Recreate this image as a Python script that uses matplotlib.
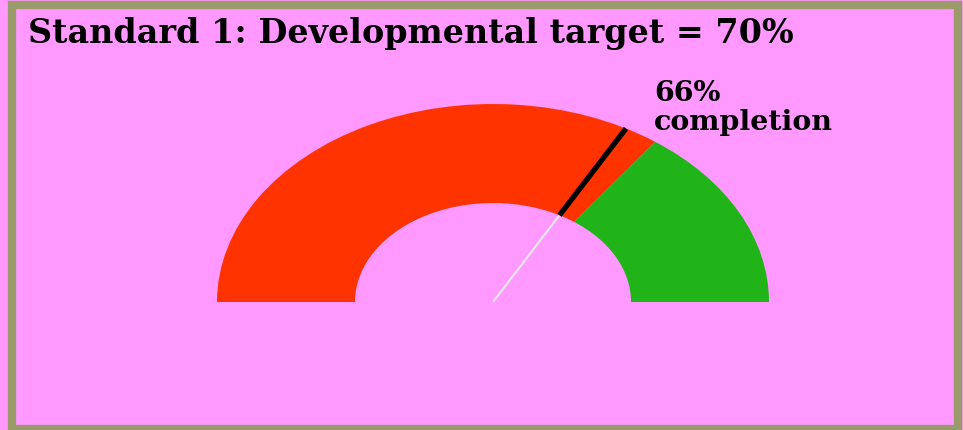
import matplotlib
matplotlib.use("Agg")
import matplotlib.pyplot as plt
from matplotlib.patches import Wedge, Rectangle
import numpy as np

title = "Standard 1: Developmental target = 70%"
target_pct = 70
value_pct = 66
value_label = "66%\ncompletion"

BG = "#FF99FF"
RED = "#FF3300"
GREEN = "#20B418"
BORDER = "#9A9A6A"

W, H = 963, 431
fig = plt.figure(figsize=(W / 100, H / 100), dpi=100, facecolor=BG)

# border frame (figure pixel coords)
bax = fig.add_axes([0, 0, 1, 1])
bax.set_xlim(0, W)
bax.set_ylim(H, 0)
bax.axis("off")
bax.add_patch(Rectangle((12, 6), 946, 424, fill=False, edgecolor=BORDER, linewidth=6))

# gauge axes: unit radius = 276 px horizontally, 198 px vertically
cx, cy = 493, 303
rx, ry = 276, 198
ax = fig.add_axes([0, 0, 1, 1])
ax.set_xlim(-cx / rx, (W - cx) / rx)
ax.set_ylim(-(H - cy) / ry, cy / ry)
ax.axis("off")
ax.patch.set_alpha(0)

ang_target = 180 - target_pct / 100 * 180
ax.add_patch(Wedge((0, 0), 1.0, ang_target, 180, width=0.5, facecolor=RED, edgecolor="none"))
ax.add_patch(Wedge((0, 0), 1.0, 0, ang_target, width=0.5, facecolor=GREEN, edgecolor="none"))

ang_val = np.radians(180 - value_pct / 100 * 180)
c, s = np.cos(ang_val), np.sin(ang_val)
ax.plot([0, 0.5 * c], [0, 0.5 * s], color="#E8E8E8", linewidth=1.5, solid_capstyle="butt")
ax.plot([0.5 * c, 1.0 * c], [0.5 * s, 1.0 * s], color="black", linewidth=3.8, solid_capstyle="butt")

fig.text(28 / W, 1 - 34 / H, title, fontsize=24, fontweight="bold", family="DejaVu Serif",
         ha="left", va="center", color="black")
fig.text(654 / W, 1 - 80 / H, value_label, fontsize=20.5, fontweight="bold", family="DejaVu Serif",
         ha="left", va="top", color="black", linespacing=1.08)

fig.savefig("out.png", dpi=100, facecolor=BG)
